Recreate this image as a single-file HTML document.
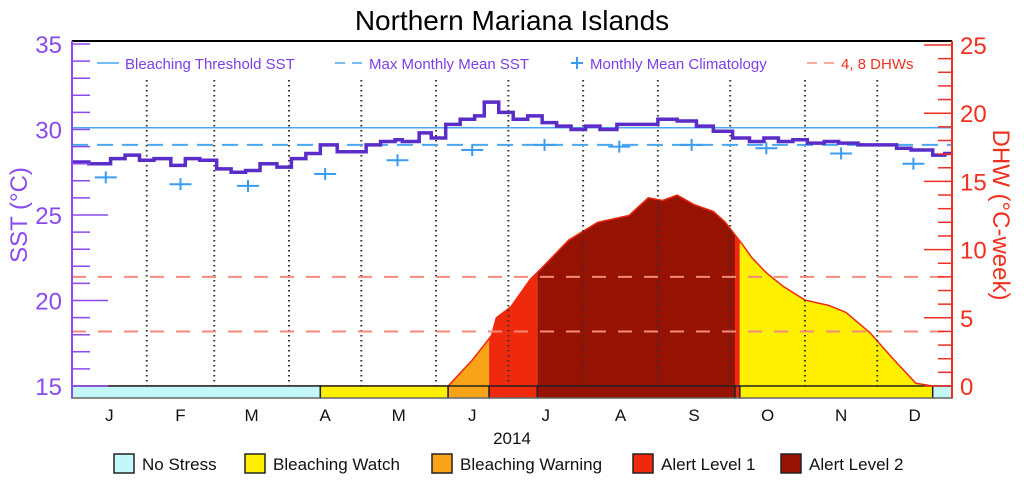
<!DOCTYPE html>
<html><head><meta charset="utf-8"><style>
body{margin:0;background:#fff;width:1024px;height:485px;overflow:hidden;font-family:"Liberation Sans",sans-serif}
</style></head><body>
<svg id="c" width="1024" height="485" xmlns="http://www.w3.org/2000/svg" font-family="Liberation Sans, sans-serif"></svg>
<script>
const sstDays=[0,7,16,22,28,34,41,47,53,60,66,72,78,85,91,97,103,110,116,122,128,134,137,144,149,155,161,167,171,177,183,189,195,201,207,213,219,226,234,243,251,259,266,274,281,287,293,299,305,312,318,326,334,342,348,357,362];
const sstVals=[28.1,28.0,28.3,28.5,28.2,28.3,27.9,28.3,28.2,27.7,27.5,27.6,28.0,27.8,28.3,28.6,29.1,28.7,28.7,29.1,29.3,29.4,29.3,29.8,29.5,30.3,30.6,30.8,31.6,31.0,30.6,30.8,30.4,30.2,30.0,30.2,30.0,30.3,30.3,30.6,30.5,30.2,29.9,29.5,29.3,29.5,29.3,29.4,29.2,29.3,29.2,29.1,29.1,28.9,28.8,28.5,28.6];
const climDays=[14,45,73,105,135,166,196,227,257,288,319,349];
const climVals=[27.2,26.8,26.7,27.4,28.2,28.8,29.1,29.0,29.1,28.9,28.6,28.0];
const dhwDays=[0,156,166,174,176,182,190,194,206,218,231,239,245,251,258,266,271,278,282,288,295,304,314,321,331,340,350,357,365];
const dhwVals=[0,0,1.9,3.7,5.0,5.8,7.8,8.5,10.7,12.0,12.5,13.8,13.6,14.0,13.3,12.8,12.0,10.4,9.4,8.3,7.3,6.3,5.9,5.4,3.9,2.1,0.2,0,0];
const stressStart=[0,103,156,173,193,275,277,357];
const stressEnd=[103,156,173,193,275,277,357,365];
const stressLevel=[0,1,2,3,4,3,1,0];
const monthLabels=['J','F','M','A','M','J','J','A','S','O','N','D'];
const monthStarts=[0,31,59,90,120,151,181,212,243,273,304,334,365];
const sstTicks=[15,20,25,30,35];
const dhwTicks=[0,5,10,15,20,25];
const bleachThreshold=30.1, mmm=29.1, dhwLines=[4,8];
const levelColors=['#c4f7f8','#fff000','#f9a318','#ef2a0c','#961202'];
const levelNames=['No Stress','Bleaching Watch','Bleaching Warning','Alert Level 1','Alert Level 2'];

const X0=72,X1=952,Y0=41,YB=386;
const xs=d=>X0+d*(X1-X0)/365;
const ys=v=>386-(v-15)*17.1;
const yd=v=>386-v*13.64;
const svg=document.getElementById('c');
const NS='http://www.w3.org/2000/svg';
function mk(tag,attrs,parent){const e=document.createElementNS(NS,tag);for(const k in attrs)e.setAttribute(k,attrs[k]);(parent||svg).appendChild(e);return e;}

let t=mk('text',{x:512,y:30,'text-anchor':'middle','font-size':28,fill:'#000'});t.textContent='Northern Mariana Islands';



const dpts=dhwDays.map((d,i)=>xs(d)+','+yd(dhwVals[i])).join(' ');
for(let i=0;i<stressStart.length;i++){
  const cp=mk('clipPath',{id:'cp'+i});
  mk('rect',{x:xs(stressStart[i]),y:0,width:xs(stressEnd[i])-xs(stressStart[i]),height:485},cp);
  const p=mk('polygon',{points:dpts+' '+xs(365)+','+YB+' '+xs(0)+','+YB,fill:levelColors[stressLevel[i]],'clip-path':'url(#cp'+i+')'});
  
  
}
let dl=mk('polyline',{points:dpts,fill:'none',stroke:'#ef2a0c','stroke-width':1.5});



for(let m=1;m<12;m++){
  const l=mk('line',{x1:xs(monthStarts[m]),x2:xs(monthStarts[m]),y1:80,y2:YB,stroke:'#333','stroke-width':2,'stroke-dasharray':'1.5,3.5'});
  
  
}
dhwLines.forEach(v=>{const l=mk('line',{x1:X0,x2:X1,y1:yd(v),y2:yd(v),stroke:'#f58a7a','stroke-width':2,'stroke-dasharray':'14,12'});

});
let bt=mk('line',{x1:X0,x2:X1,y1:ys(bleachThreshold),y2:ys(bleachThreshold),stroke:'#4aa8f0','stroke-width':1.5});


let mm=mk('line',{x1:X0,x2:X1,y1:ys(mmm),y2:ys(mmm),stroke:'#4aa8f0','stroke-width':2,'stroke-dasharray':'16,9'});


climDays.forEach((d,i)=>{const g=mk('g',{stroke:'#3a9cf0','stroke-width':2});
mk('line',{x1:xs(d)-11,x2:xs(d)+11,y1:ys(climVals[i]),y2:ys(climVals[i])},g);
mk('line',{x1:xs(d),x2:xs(d),y1:ys(climVals[i])-6,y2:ys(climVals[i])+6},g);

});
let sp='';sstDays.forEach((d,i)=>{const y=ys(sstVals[i]);if(i===0)sp+='M'+xs(d)+','+y;else sp+='V'+y;const nx=i<sstDays.length-1?xs(sstDays[i+1]):X1;sp+='H'+nx;});
let sl=mk('path',{d:sp,fill:'none',stroke:'#5a2cc8','stroke-width':3.5});



for(let i=0;i<stressStart.length;i++){
  const r=mk('rect',{x:xs(stressStart[i]),y:386,width:xs(stressEnd[i])-xs(stressStart[i]),height:12,fill:levelColors[stressLevel[i]],stroke:'#222','stroke-width':1.5});
  
  
}
let fr=mk('rect',{x:X0,y:Y0,width:X1-X0,height:398-Y0,fill:'none',stroke:'#888','stroke-width':1});


mk('line',{x1:X0,x2:X1,y1:Y0,y2:Y0,stroke:'#000','stroke-width':2});
mk('line',{x1:X0,x2:X0,y1:Y0,y2:398,stroke:'#8a4af0','stroke-width':2});
mk('line',{x1:X1,x2:X1,y1:Y0,y2:398,stroke:'#f03020','stroke-width':2});
for(let v=15;v<=35;v++){const L=(v%5===0)?(v===30||v===35?18:36):18;
 mk('line',{x1:X0,x2:X0+L,y1:ys(v),y2:ys(v),stroke:'#8a4af0','stroke-width':1.5});}
sstTicks.forEach(v=>{const e=mk('text',{x:62,y:ys(v)+9,'text-anchor':'end','font-size':24,fill:'#8a4af0'});e.textContent=v;

});
for(let v=0;v<=25;v++){const L=v%5===0?28:14;mk('line',{x1:X1-L,x2:X1,y1:yd(v),y2:yd(v),stroke:'#f03020','stroke-width':1.5});}
dhwTicks.forEach(v=>{const e=mk('text',{x:960,y:yd(v)+9,'font-size':24,fill:'#f03020'});e.textContent=v;

});
let at=mk('text',{transform:'translate(27,215) rotate(-90)','text-anchor':'middle','font-size':24,fill:'#8a4af0'});at.textContent='SST (°C)';


let ar=mk('text',{transform:'translate(993,215) rotate(90)','text-anchor':'middle','font-size':24,fill:'#f03020'});ar.textContent='DHW (°C-week)';


monthLabels.forEach((m,i)=>{const e=mk('text',{x:xs((monthStarts[i]+monthStarts[i+1])/2),y:421,'text-anchor':'middle','font-size':17,fill:'#111'});e.textContent=m;

});
let yr=mk('text',{x:512,y:444,'text-anchor':'middle','font-size':17,fill:'#111'});yr.textContent='2014';



function tl(x,txt,col,kind){const g=mk('g',{});
 if(kind==='solid')mk('line',{x1:x,x2:x+22,y1:63,y2:63,stroke:'#4aa8f0','stroke-width':1.5},g);
 if(kind==='dash'){mk('line',{x1:x,x2:x+10,y1:63,y2:63,stroke:col,'stroke-width':1.5},g);mk('line',{x1:x+17,x2:x+27,y1:63,y2:63,stroke:col,'stroke-width':1.5},g);}
 if(kind==='plus'){mk('line',{x1:x,x2:x+12,y1:63,y2:63,stroke:'#3a9cf0','stroke-width':2},g);mk('line',{x1:x+6,x2:x+6,y1:57,y2:69,stroke:'#3a9cf0','stroke-width':2},g);}
 const e=mk('text',{x:x+(kind==='plus'?19:(kind==='dash'?34:28)),y:69,'font-size':15,fill:kind==='dash'&&col!=='#4aa8f0'?'#f03020':'#7b3fe4'},g);e.textContent=txt;
 
 }
tl(97,'Bleaching Threshold SST','#4aa8f0','solid');
tl(335,'Max Monthly Mean SST','#4aa8f0','dash');
tl(571,'Monthly Mean Climatology','#3a9cf0','plus');
tl(807,'4, 8 DHWs','#f58a7a','dash');

const lx=[114,245,432,633,781];
levelNames.forEach((n,i)=>{const g=mk('g',{});
 mk('rect',{x:lx[i],y:454,width:20,height:19,fill:levelColors[i],stroke:'#222','stroke-width':1.5},g);
 const e=mk('text',{x:lx[i]+28,y:470,'font-size':17,fill:'#111'},g);e.textContent=n;
 
 });
</script>
</body></html>
